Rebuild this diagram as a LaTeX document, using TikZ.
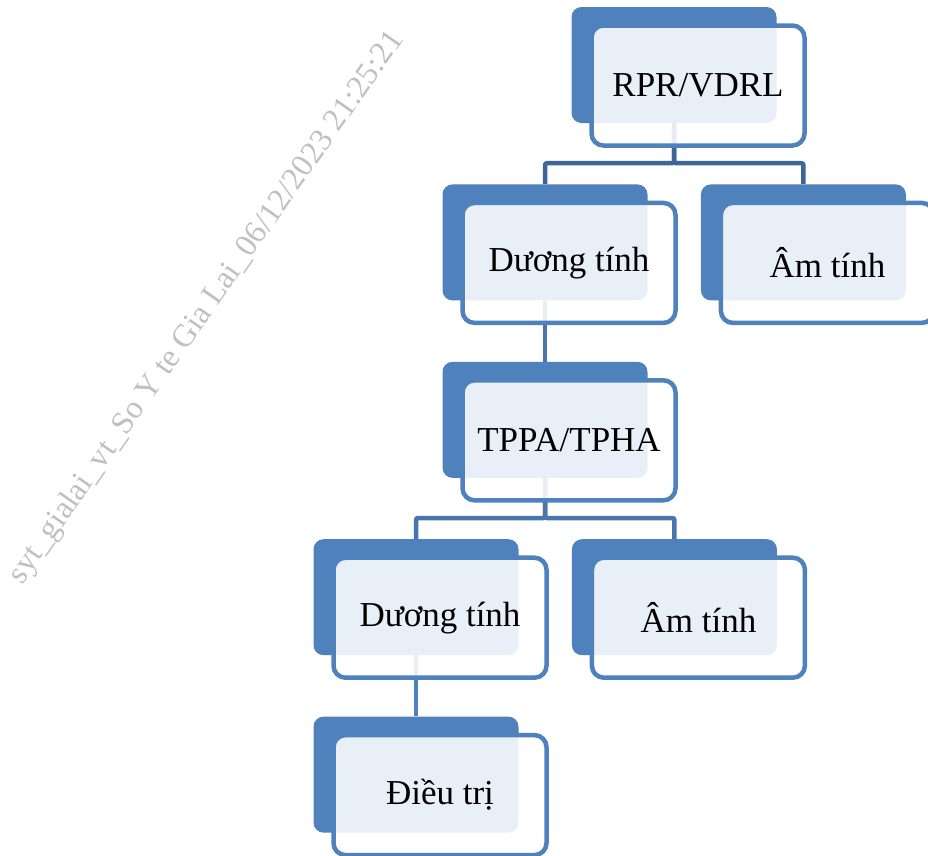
\documentclass[tikz,border=0pt]{standalone}
\usepackage{fontspec}
\setmainfont{Liberation Serif}
\usetikzlibrary{positioning, backgrounds}

\definecolor{boxblue}{RGB}{79,129,189}
\definecolor{linkdark}{RGB}{62,101,150}
\definecolor{linkmid}{RGB}{71,117,172}
\definecolor{markgray}{RGB}{192,192,192}

\begin{document}
\begin{tikzpicture}[x=1pt, y=-1pt, node distance=61pt,
	backbox/.style={rectangle, rounded corners=10pt, fill=boxblue, minimum width=205pt, minimum height=116pt, inner sep=0pt},
	frontbox/.style={rectangle, rounded corners=12pt, draw=boxblue, line width=4.5pt, fill=white, fill opacity=0.88, text opacity=1, minimum width=213pt, minimum height=120pt, inner sep=0pt, font=\fontsize{35}{42}\selectfont},
	link/.style={line width=4.5pt, rounded corners=2pt}]
	
	\useasboundingbox (0,0) rectangle (928,855);
	
	% Watermark
	\node[rotate=55, text=markgray, font=\fontsize{32}{37}\selectfont] (mark) at (207,308) {syt\_gialai\_vt\_So Y te Gia Lai\_06/12/2023 21:25:21};
	
	% Define back boxes
	\node[backbox] (rprb) at (674,65) {};
	\node[backbox, below=of rprb, xshift=-129pt] (dt1b) {};
	\node[backbox, right=53pt of dt1b] (at1b) {};
	\node[backbox, below=of dt1b] (tppab) {};
	\node[backbox, below=of tppab, xshift=-129pt] (dt2b) {};
	\node[backbox, right=53pt of dt2b] (at2b) {};
	\node[backbox, below=of dt2b] (dtrib) {};
	
	% Front boxes with labels
	\node[frontbox] (rpr) at ([xshift=24pt, yshift=-20.5pt]rprb.center) {RPR/VDRL};
	\node[frontbox] (dt1) at ([xshift=24pt, yshift=-20.5pt]dt1b.center) {Dương tính};
	\node[frontbox] (at1) at ([xshift=24pt, yshift=-20.5pt]at1b.center) {Âm tính};
	\node[frontbox] (tppa) at ([xshift=24pt, yshift=-20.5pt]tppab.center) {TPPA/TPHA};
	\node[frontbox] (dt2) at ([xshift=24pt, yshift=-20.5pt]dt2b.center) {Dương tính};
	\node[frontbox] (at2) at ([xshift=24pt, yshift=-20.5pt]at2b.center) {Âm tính};
	\node[frontbox] (dtri) at ([xshift=24pt, yshift=-20.5pt]dtrib.center) {Điều trị};
	
	% Connectors behind the boxes
	\begin{scope}[on background layer]
		\draw[link, linkdark] (rprb.south) -- ++(0,-40pt) -| (dt1b.north);
		\draw[link, linkdark] (rprb.south) -- ++(0,-40pt) -| (at1b.north);
		\draw[link, linkmid] (dt1b.south) -- (tppab.north);
		\draw[link, linkmid] (tppab.south) -- ++(0,-40pt) -| (dt2b.north);
		\draw[link, linkmid] (tppab.south) -- ++(0,-40pt) -| (at2b.north);
		\draw[link, boxblue] (dt2b.south) -- (dtrib.north);
	\end{scope}
\end{tikzpicture}
\end{document}
